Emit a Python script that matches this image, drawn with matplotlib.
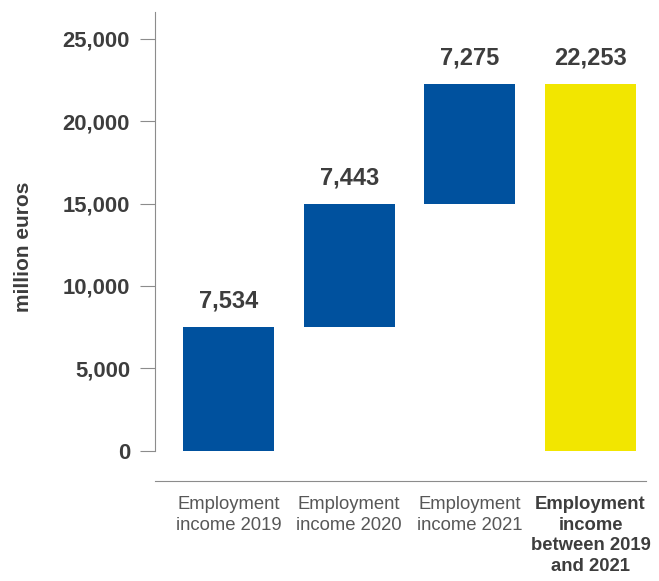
# -*- coding: utf-8 -*-
"""
Employment income 2019-2021: waterfall chart (million euros)
"""

import numpy as np
import matplotlib
matplotlib.use("Agg")
import matplotlib.pyplot as plt

plt.rcParams['font.family'] = ['Liberation Sans', 'DejaVu Sans']

# ========== 数据 ==========
CATEGORIES = [
    "Employment\nincome 2019",
    "Employment\nincome 2020",
    "Employment\nincome 2021",
    "Employment\nincome\nbetween 2019\nand 2021",
]
YEARLY_VALUES = [7534, 7443, 7275]
TOTAL_VALUE = 22253
Y_TICKS = [0, 5000, 10000, 15000, 20000, 25000]

# ========== 样式 ==========
BLUE = "#00519e"
YELLOW = "#f2e600"
TEXT_DARK = "#3d3d3d"
TEXT_LABEL = "#575757"
AXIS_GREY = "#8c8c8c"
Y_MIN, Y_MAX = -1840, 26620


def plot_waterfall(output_path):
    fig = plt.figure(figsize=(6.59, 5.81), dpi=100)
    ax = fig.add_axes([0.2352, 0.1721, 0.7451, 0.8072])

    # 逐年累加: 每根柱子从上一年的累计值开始
    bottoms = np.concatenate([[0], np.cumsum(YEARLY_VALUES)[:-1]])
    heights = list(YEARLY_VALUES) + [TOTAL_VALUE]
    bottoms = list(bottoms) + [0]
    colors = [BLUE] * len(YEARLY_VALUES) + [YELLOW]
    x = np.arange(len(CATEGORIES))

    ax.bar(x, heights, bottom=bottoms, width=0.754, color=colors, linewidth=0)

    for xi, b, h in zip(x, bottoms, heights):
        ax.annotate(f"{h:,}", xy=(xi, b + h), xytext=(0, 13.9),
                    textcoords='offset points', ha='center', va='baseline',
                    fontsize=17, fontweight='bold', color=TEXT_DARK)

    ax.set_xlim(-0.609, 3.46)
    ax.set_ylim(Y_MIN, Y_MAX)

    # 坐标轴样式
    for side in ['top', 'right']:
        ax.spines[side].set_visible(False)
    ax.spines['left'].set_bounds(0, Y_MAX)
    ax.spines['left'].set_color(AXIS_GREY)
    ax.spines['left'].set_linewidth(0.8)
    ax.spines['bottom'].set_color(AXIS_GREY)
    ax.spines['bottom'].set_linewidth(0.8)

    ax.set_yticks(Y_TICKS)
    ax.set_yticklabels([f"{t:,}" for t in Y_TICKS])
    ax.tick_params(axis='y', length=10.8, width=0.8, color=AXIS_GREY, pad=7.2,
                   labelsize=15.8, labelcolor=TEXT_DARK)
    for lbl in ax.get_yticklabels():
        lbl.set_fontweight('bold')

    ax.set_xticks(x)
    ax.set_xticklabels(CATEGORIES, fontsize=13.3, color=TEXT_LABEL, linespacing=1.27)
    ax.tick_params(axis='x', length=0, pad=11)
    total_lbl = ax.get_xticklabels()[-1]
    total_lbl.set_fontweight('bold')
    total_lbl.set_color(TEXT_DARK)

    fig.text(24 / 659, 1 - 246.5 / 581, "million euros", rotation=90,
             ha='center', va='center', fontsize=15, fontweight='bold', color=TEXT_DARK)

    fig.savefig(output_path, dpi=100)
    plt.close(fig)


def main():
    plot_waterfall("out.png")


if __name__ == "__main__":
    main()
